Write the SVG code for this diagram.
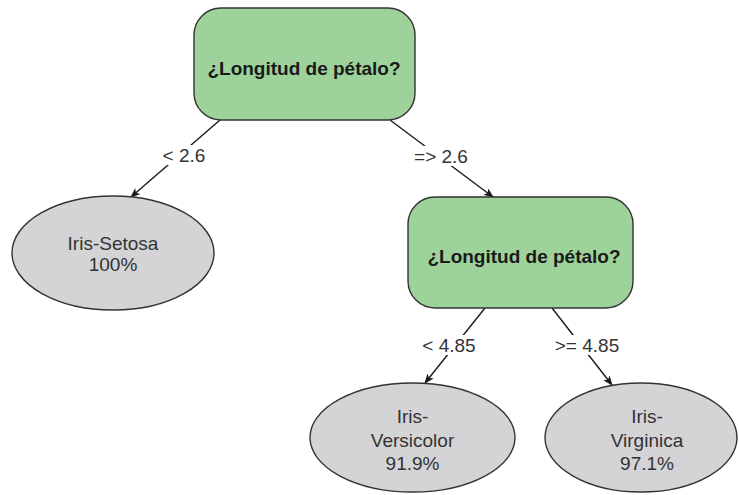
<svg xmlns="http://www.w3.org/2000/svg" width="739" height="495" viewBox="0 0 739 495">
  <style>
    .dec { fill: #9dd39a; stroke: #333333; stroke-width: 1.4; }
    .leaf { fill: #d4d4d6; stroke: #333333; stroke-width: 1.4; }
    .title { font-family: "Liberation Sans", Arial, sans-serif; font-size: 19px; font-weight: bold; fill: #1a1a1a; text-anchor: middle; }
    .txt { font-family: "Liberation Sans", Arial, sans-serif; font-size: 19px; fill: #333333; text-anchor: middle; }
    .edge { stroke: #1a1a1a; stroke-width: 1.4; fill: none; }
    .lblbg { fill: #ffffff; }
  </style>
  <defs>
    <marker id="arr" markerWidth="10" markerHeight="8" refX="9" refY="4" orient="auto" markerUnits="userSpaceOnUse">
      <path d="M0,0 L10,4 L0,8 L2.5,4 z" fill="#1a1a1a"/>
    </marker>
  </defs>

  <g id="connectors">
    <g id="e1">
      <line class="edge" x1="220" y1="120" x2="131" y2="197" marker-end="url(#arr)"/>
      <rect class="lblbg" x="161" y="145" width="46" height="20"/>
      <text class="txt" x="184" y="162">&lt; 2.6</text>
    </g>
    <g id="e2">
      <line class="edge" x1="390" y1="120" x2="493" y2="197" marker-end="url(#arr)"/>
      <rect class="lblbg" x="412" y="146" width="58" height="20"/>
      <text class="txt" x="441" y="163">=&gt; 2.6</text>
    </g>
    <g id="e3">
      <line class="edge" x1="485" y1="308" x2="425" y2="383" marker-end="url(#arr)"/>
      <rect class="lblbg" x="420" y="335" width="58" height="20"/>
      <text class="txt" x="449" y="352">&lt; 4.85</text>
    </g>
    <g id="e4">
      <line class="edge" x1="552" y1="308" x2="612" y2="385" marker-end="url(#arr)"/>
      <rect class="lblbg" x="552" y="335" width="70" height="20"/>
      <text class="txt" x="587" y="352">&gt;= 4.85</text>
    </g>
  </g>

  <g id="root">
    <rect class="dec" x="194" y="8" width="221" height="112" rx="27" ry="27"/>
    <text class="title" x="304" y="75">¿Longitud de pétalo?</text>
  </g>

  <g id="petal2">
    <rect class="dec" x="408" y="197" width="225" height="111" rx="27" ry="27"/>
    <text class="title" x="524" y="263">¿Longitud de pétalo?</text>
  </g>

  <g id="setosa">
    <ellipse class="leaf" cx="113" cy="253" rx="101" ry="57"/>
    <text class="txt" x="113" y="250">Iris-Setosa</text>
    <text class="txt" x="113" y="271">100%</text>
  </g>

  <g id="versicolor">
    <ellipse class="leaf" cx="412.5" cy="437.5" rx="102.5" ry="54.5"/>
    <text class="txt" x="412.5" y="423">Iris-</text>
    <text class="txt" x="412.5" y="447">Versicolor</text>
    <text class="txt" x="412.5" y="470">91.9%</text>
  </g>

  <g id="virginica">
    <ellipse class="leaf" cx="641" cy="437.5" rx="96" ry="54.5"/>
    <text class="txt" x="647" y="423">Iris-</text>
    <text class="txt" x="647" y="447">Virginica</text>
    <text class="txt" x="647" y="470">97.1%</text>
  </g>
</svg>
